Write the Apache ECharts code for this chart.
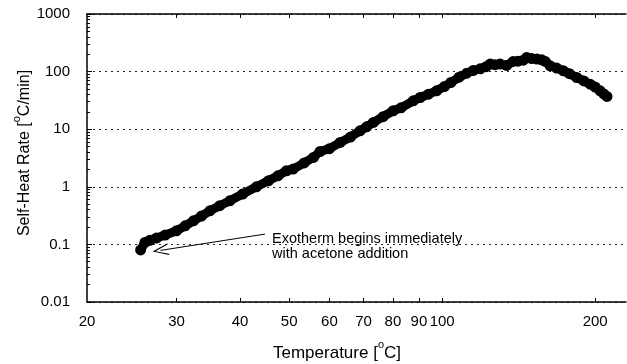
<!DOCTYPE html>
<html>
<head>
<meta charset="utf-8">
<script src="https://cdn.jsdelivr.net/npm/echarts@6/dist/echarts.min.js"></script>
<style>
  html, body { margin: 0; padding: 0; background: #fff; }
  #chart { width: 627px; height: 364px; }
</style>
</head>
<body>
<div id="chart"></div>
<script>
// temperature [°C] and self-heat rate [°C/min]
const tempC = [
  25.5, 26.0, 26.6, 27.4, 28.5, 30.0, 31.2, 32.4, 33.6, 34.9,
  36.5, 38.2, 40.5, 43.1, 45.5, 47.5, 49.4, 50.9, 53.5, 55.8,
  57.5, 60.0, 63.0, 66.0, 68.9, 71.0, 73.2, 76.5, 80.1, 83.0,
  87.7, 90.5, 94.0, 97.5, 101, 104, 108, 111.8, 115, 118.8,
  122, 124.3, 127, 130, 133.9, 138, 141, 144.5, 146.7, 150,
  153.6, 157, 159.5, 163.1, 168, 173.2, 178, 184, 190, 195.5,
  200, 204.6, 208, 211
];
const selfHeatRate = [
  0.080, 0.108, 0.118, 0.129, 0.145, 0.172, 0.21, 0.257, 0.31, 0.383,
  0.47, 0.571, 0.75, 1.0, 1.27, 1.55, 1.90, 2.03, 2.6, 3.23,
  4.1, 4.6, 5.88, 7.3, 9.38, 11.0, 13.1, 16.5, 20.9, 23.5,
  31.1, 35.5, 40.5, 46.4, 55, 64.7, 80, 94, 104, 112,
  122, 135, 132, 135, 128, 150, 152, 158, 176, 168,
  165, 160, 150, 126, 115, 103, 92, 79, 69, 60.6,
  54, 46.4, 41, 37
];
const xTickValues = [20, 30, 40, 50, 60, 70, 80, 90, 100, 200];
const yMinorTicks = [];
[0.01, 0.1, 1, 10, 100].forEach(function (d) {
  for (let k = 2; k <= 9; k++) yMinorTicks.push(+(d * k).toPrecision(3));
});
const noteText = 'Exotherm begins immediately\nwith acetone addition';
const arrowFrom = [44.8, 0.151];
const arrowTo = [27.9, 0.0787];

const font = 'Liberation Sans, Arial, Helvetica, sans-serif';
function nameRich(size) {
  return {
    m: { fontSize: size, padding: [6, 0, 0, 0], verticalAlign: 'bottom', fontFamily: font, color: '#000' },
    s: { fontSize: 11, verticalAlign: 'top', fontFamily: font, color: '#000' }
  };
}
const chart = echarts.init(document.getElementById('chart'), null, { renderer: 'canvas' });

chart.setOption({
  animation: false,
  backgroundColor: '#fff',
  textStyle: { fontFamily: font },
  grid: { left: 87, right: 1, top: 14, bottom: 62, containLabel: false, outerBoundsMode: 'none' },
  xAxis: [
    {
      type: 'log', logBase: 10, min: 20, max: 230,
      position: 'bottom',
      name: '{m|Temperature [}{s|o}{m|C]}',
      nameLocation: 'middle',
      nameGap: 37,
      nameTextStyle: { color: '#000', fontSize: 17, fontFamily: font, padding: [0, 39, 0, 0], rich: nameRich(17) },
      axisLine: { show: true, lineStyle: { color: '#000', width: 1.5 } },
      axisTick: { show: true, inside: true, length: 4, customValues: xTickValues.slice(1), lineStyle: { color: '#000' } },
      axisLabel: { show: true, customValues: xTickValues, color: '#000', fontSize: 15, margin: 12, fontFamily: font },
      splitLine: { show: false },
      minorTick: { show: false }
    },
    {
      type: 'log', logBase: 10, min: 20, max: 230,
      position: 'top',
      axisLine: { show: true, lineStyle: { color: '#000', width: 1.5 } },
      axisTick: { show: true, inside: true, length: 4, customValues: xTickValues.slice(1), lineStyle: { color: '#000' } },
      axisLabel: { show: false },
      splitLine: { show: false }
    }
  ],
  yAxis: [
    {
      type: 'log', logBase: 10, min: 0.01, max: 1000,
      position: 'left',
      name: '{m|Self-Heat Rate [}{s|o}{m|C/min]}',
      nameLocation: 'middle',
      nameRotate: 90,
      nameGap: 54,
      nameMoveOverlap: false,
      nameTextStyle: { color: '#000', fontSize: 16, fontFamily: font, padding: [0, 0, 0, 10], rich: nameRich(16) },
      axisLine: { show: true, lineStyle: { color: '#000', width: 1.5 } },
      axisTick: { show: true, inside: true, length: 5, lineStyle: { color: '#000' } },
      axisLabel: {
        color: '#000', fontSize: 15, margin: 17, fontFamily: font,
        formatter: function (v) { return String(+v.toPrecision(3)); }
      },
      splitLine: { show: true, lineStyle: { color: '#222', type: [2, 4], width: 1 } }
    },
    {
      type: 'log', logBase: 10, min: 0.01, max: 1000,
      position: 'left',
      axisLine: { show: false },
      axisTick: { show: true, inside: true, length: 3, customValues: yMinorTicks, lineStyle: { color: '#000' } },
      axisLabel: { show: false },
      splitLine: { show: false }
    }
  ],
  graphic: [
    {
      type: 'text', left: 272, top: 231,
      style: { text: noteText, fontSize: 14.5, lineHeight: 15, fill: '#000', fontFamily: font }
    }
  ],
  series: [
    {
      type: 'line',
      xAxisIndex: 0,
      yAxisIndex: 0,
      data: tempC.map(function (t, i) { return [t, selfHeatRate[i]]; }),
      symbol: 'circle',
      symbolSize: 11,
      showSymbol: true,
      itemStyle: { color: '#000' },
      lineStyle: { color: '#000', width: 9 },
      markLine: {
        silent: true,
        symbol: ['none', 'path://M6,0 L12,16 L10.6,16 L6,3 L1.4,16 L0,16 Z'],
        symbolSize: [12, 16],
        label: { show: false },
        lineStyle: { color: '#000', width: 1, type: 'solid' },
        data: [[{ coord: arrowFrom }, { coord: arrowTo }]]
      }
    }
  ]
});
</script>
</body>
</html>
